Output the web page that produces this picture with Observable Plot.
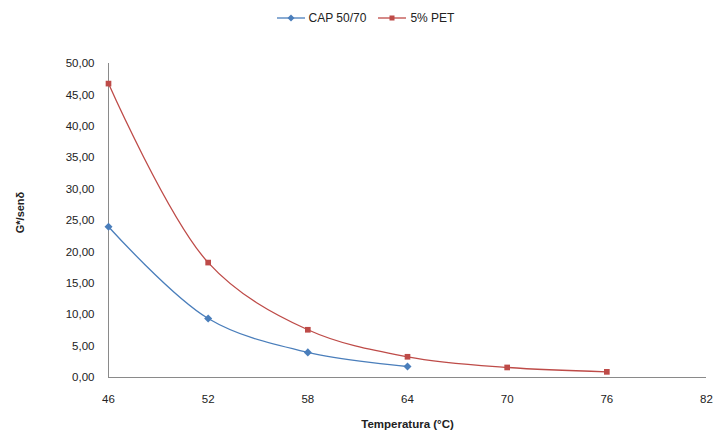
<!DOCTYPE html>
<html>
<head>
<meta charset="utf-8">
<script src="https://cdn.jsdelivr.net/npm/d3@7"></script>
<script src="https://cdn.jsdelivr.net/npm/@observablehq/plot@0.6"></script>
<style>
  body { margin: 0; background: #fff; font-family: "Liberation Sans", Arial, sans-serif; }
  #wrap { width: 713px; height: 433px; position: relative; }
  #legend { height: 36px; display: flex; align-items: center; justify-content: center; font-size: 12px; color: #222; padding-left: 18px; box-sizing: border-box; }
  .item { display: flex; align-items: center; margin: 0 6px; }
  .item svg { margin-right: 4px; }
</style>
</head>
<body>
<div id="wrap">
  <div id="legend"></div>
  <div id="chart"></div>
</div>
<script>
const temperatures = [46, 52, 58, 64, 70, 76];
const seriesNames = ["CAP 50/70", "5% PET"];
const capValues = [24.0, 9.4, 4.0, 1.75];
const petValues = [46.8, 18.3, 7.6, 3.3, 1.6, 0.9];
const xTicks = [46, 52, 58, 64, 70, 76, 82];
const yTicks = [0, 5, 10, 15, 20, 25, 30, 35, 40, 45, 50];
const colors = ["#4a7ebb", "#be4b48"];

// rotated-square diamond (Excel style)
const rhombus = {
  draw(context, size) {
    const h = Math.sqrt(size / 2);
    context.moveTo(0, -h);
    context.lineTo(h, 0);
    context.lineTo(0, h);
    context.lineTo(-h, 0);
    context.closePath();
  }
};
const symbols = [rhombus, d3.symbolSquare];

const data = [];
capValues.forEach((v, i) => data.push({series: seriesNames[0], t: temperatures[i], v}));
petValues.forEach((v, i) => data.push({series: seriesNames[1], t: temperatures[i], v}));

// Legend
const legend = document.getElementById("legend");
seriesNames.forEach((name, i) => {
  const item = document.createElement("div");
  item.className = "item";
  const marker = i === 0
    ? `<path d="M14,2.5 L17.5,6 L14,9.5 L10.5,6 Z" fill="${colors[i]}"/>`
    : `<rect x="11.5" y="3.5" width="5" height="5" fill="${colors[i]}"/>`;
  item.innerHTML = `<svg width="28" height="12"><line x1="0" x2="28" y1="6" y2="6" stroke="${colors[i]}" stroke-width="1.3"/>${marker}</svg><span>${name}</span>`;
  legend.appendChild(item);
});

const fmt = d => d3.format(".2f")(d).replace(".", ",");

const chart = Plot.plot({
  width: 713,
  height: 397,
  marginTop: 27,
  marginBottom: 56,
  marginLeft: 108,
  marginRight: 7,
  style: { fontFamily: "Liberation Sans, Arial, sans-serif", fontSize: "11.5px", color: "#222", background: "#fff" },
  x: { domain: [46, 82] },
  y: { domain: [0, 50] },
  color: { domain: seriesNames, range: colors },
  symbol: { domain: seriesNames, range: symbols },
  marks: [
    Plot.axisY({ ticks: yTicks, tickFormat: fmt, tickSize: 0, tickPadding: 14, label: null }),
    Plot.axisX({ ticks: xTicks, tickFormat: d => String(d), tickSize: 0, tickPadding: 17, label: null }),
    Plot.text(["G*/senδ"], { frameAnchor: "left", textAnchor: "middle", dx: -88, dy: -8, rotate: -90, fontWeight: "bold", fontSize: 11, fill: "#222" }),
    Plot.text(["Temperatura (°C)"], { frameAnchor: "bottom", dy: 50, fontWeight: "bold", fontSize: 11.5, fill: "#222" }),
    Plot.ruleX([46], { y1: 0, y2: 50, stroke: "#8a8a8a", strokeWidth: 1 }),
    Plot.ruleY([0], { x1: 46, x2: 82, stroke: "#8a8a8a", strokeWidth: 1.2 }),
    Plot.line(data, { x: "t", y: "v", z: "series", stroke: "series", curve: "catmull-rom", strokeWidth: 1.3 }),
    Plot.dot(data, { x: "t", y: "v", fill: "series", symbol: "series", r: 3.2, stroke: null })
  ]
});
document.getElementById("chart").appendChild(chart);
</script>
</body>
</html>
